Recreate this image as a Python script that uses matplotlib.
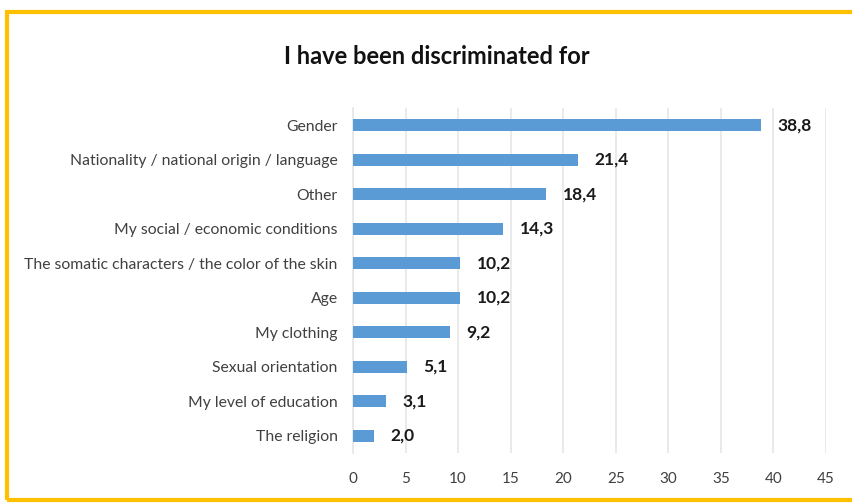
import matplotlib
matplotlib.use("Agg")
import matplotlib.pyplot as plt
from matplotlib.patches import Rectangle

categories = [
    "Gender",
    "Nationality / national origin / language",
    "Other",
    "My social / economic conditions",
    "The somatic characters / the color of the skin",
    "Age",
    "My clothing",
    "Sexual orientation",
    "My level of education",
    "The religion",
]
values = [38.8, 21.4, 18.4, 14.3, 10.2, 10.2, 9.2, 5.1, 3.1, 2.0]
value_labels = ["38,8", "21,4", "18,4", "14,3", "10,2", "10,2", "9,2", "5,1", "3,1", "2,0"]
x_ticks = [0, 5, 10, 15, 20, 25, 30, 35, 40, 45]

plt.rcParams["font.family"] = ["Lato", "DejaVu Sans"]

fig = plt.figure(figsize=(8.53, 5.04), dpi=100)
fig.patch.set_facecolor("white")

# gold frame around the chart
fig.patches.append(Rectangle((7 / 853, 4 / 504), 900 / 853, 488 / 504,
                             transform=fig.transFigure, fill=False,
                             edgecolor="#FFC000", linewidth=3, zorder=0))

ax = fig.add_axes([353 / 853, 1 - 453 / 504, (826 - 353) / 853, (453 - 108) / 504])
pos = list(range(len(categories)))
ax.barh(pos, values, height=0.36, color="#5B9BD5", zorder=3)
ax.set_ylim(len(categories) - 0.5, -0.5)
ax.set_xlim(0, 45)
ax.set_xticks(x_ticks)
ax.set_xticklabels([str(t) for t in x_ticks], fontsize=11, color="#404040")
ax.set_yticks(pos)
ax.set_yticklabels(categories, fontsize=11.3, color="#404040")
ax.tick_params(axis="both", length=0)
ax.tick_params(axis="x", pad=14)
ax.tick_params(axis="y", pad=11)
ax.grid(axis="x", color="#E6E6E6", linewidth=1.2, zorder=0)
for side in ["top", "right", "bottom"]:
    ax.spines[side].set_visible(False)
ax.spines["left"].set_color("#E6E6E6")
ax.spines["left"].set_linewidth(1.2)

for p, v, lab in zip(pos, values, value_labels):
    ax.annotate(lab, (v, p), xytext=(12, 0), textcoords="offset points",
                ha="left", va="center", fontsize=12.5, fontweight="bold", color="#1a1a1a")

fig.text(437 / 853, 1 - 57 / 504, "I have been discriminated for", ha="center", va="center",
         fontsize=17, fontweight="bold", color="#111111")

fig.savefig("out.png", dpi=100)
